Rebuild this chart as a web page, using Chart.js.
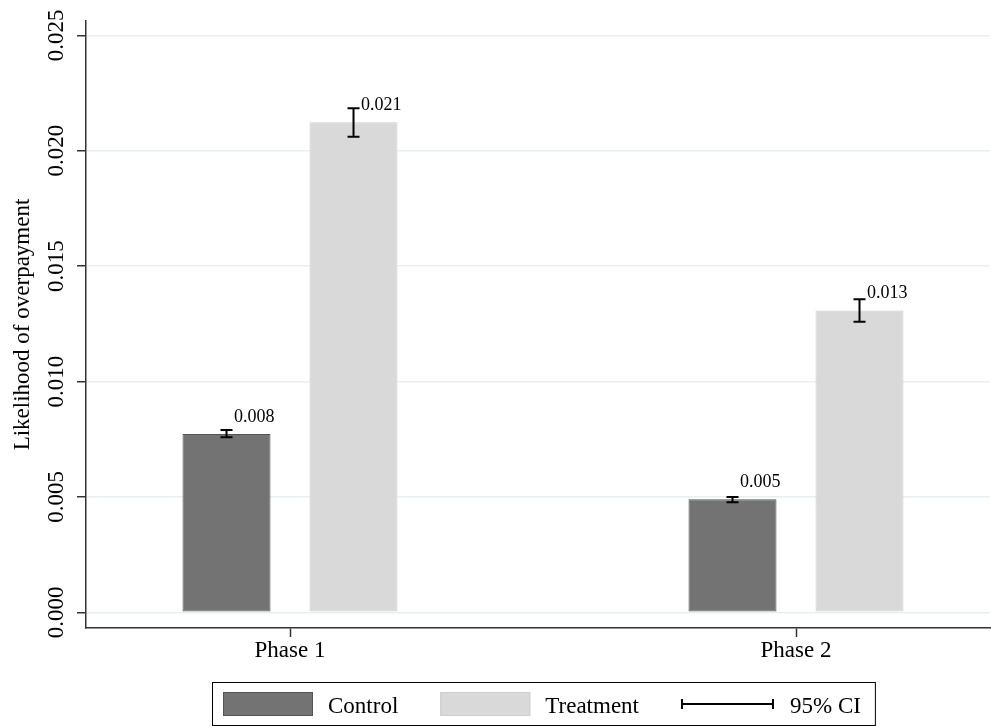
<!DOCTYPE html>
<html>
<head>
<meta charset="utf-8">
<script src="https://cdn.jsdelivr.net/npm/chart.js@4.4.0/dist/chart.umd.min.js"></script>
<style>
  html, body { margin: 0; padding: 0; background: #fff; }
</style>
</head>
<body>
<canvas id="myChart" width="991" height="726"></canvas>
<script>
// data
const phases = ['Phase 1', 'Phase 2'];
const phasePos = [1, 2];
const controlMean = [0.00773, 0.00490];
const controlLow = [0.00758, 0.00477];
const controlHigh = [0.00790, 0.00500];
const treatMean = [0.02123, 0.01308];
const treatLow = [0.02061, 0.01259];
const treatHigh = [0.02184, 0.01356];
const yTicks = [0, 0.005, 0.010, 0.015, 0.020, 0.025];

Chart.defaults.font.family = '"Liberation Serif", "Times New Roman", serif';
Chart.defaults.color = '#000';

// error bars and value labels on top of the bars
const ciPlugin = {
    id: 'ciBars',
    afterDatasetsDraw(chart) {
        const ctx = chart.ctx;
        const yScale = chart.scales.y;
        chart.data.datasets.forEach((ds, i) => {
            const meta = chart.getDatasetMeta(i);
            meta.data.forEach((bar, j) => {
                const lo = yScale.getPixelForValue(ds.ciLow[j]);
                const hi = yScale.getPixelForValue(ds.ciHigh[j]);
                ctx.save();
                ctx.strokeStyle = '#000';
                ctx.lineWidth = 2;
                ctx.beginPath();
                ctx.moveTo(bar.x, lo);
                ctx.lineTo(bar.x, hi);
                ctx.moveTo(bar.x - 6, lo);
                ctx.lineTo(bar.x + 6, lo);
                ctx.moveTo(bar.x - 6, hi);
                ctx.lineTo(bar.x + 6, hi);
                ctx.stroke();
                ctx.font = '18px "Liberation Serif"';
                ctx.fillStyle = '#000';
                ctx.textAlign = 'left';
                ctx.textBaseline = 'alphabetic';
                ctx.fillText(ds.data[j].y.toFixed(3), bar.x + 7.5, bar.y - 12);
                ctx.restore();
            });
        });
    }
};

// boxed legend below the plot, Stata style
const legendPlugin = {
    id: 'boxLegend',
    afterDraw(chart) {
        const ctx = chart.ctx;
        const area = chart.chartArea;
        ctx.save();
        ctx.font = '23px "Liberation Serif"';
        const items = chart.data.datasets.map(ds => ({
            label: ds.label, kind: 'box', fill: ds.backgroundColor, stroke: ds.borderColor, symW: 90, gap: 15
        }));
        items.push({ label: '95% CI', kind: 'ci', symW: 93, gap: 16 });

        const symH = 24, itemGap = 42, padL = 11, padR = 14;
        let total = padL + padR;
        items.forEach((it, k) => {
            it.w = ctx.measureText(it.label).width;
            total += it.symW + it.gap + it.w + (k < items.length - 1 ? itemGap : 0);
        });
        const left = Math.round((area.left + area.right) / 2 - total / 2 + 5);
        const top = 682, bottom = 725, mid = 704;

        ctx.strokeStyle = '#000';
        ctx.lineWidth = 1;
        ctx.strokeRect(left + 0.5, top + 0.5, total, bottom - top);

        let x = left + padL;
        items.forEach(it => {
            if (it.kind === 'box') {
                ctx.fillStyle = it.fill;
                ctx.fillRect(x, mid - symH / 2, it.symW, symH);
                ctx.strokeStyle = it.stroke;
                ctx.strokeRect(x + 0.5, mid - symH / 2 + 0.5, it.symW - 1, symH - 1);
            } else {
                ctx.strokeStyle = '#000';
                ctx.lineWidth = 2;
                ctx.beginPath();
                ctx.moveTo(x + 1, mid);
                ctx.lineTo(x + it.symW - 1, mid);
                ctx.moveTo(x + 1, mid - 5);
                ctx.lineTo(x + 1, mid + 5);
                ctx.moveTo(x + it.symW - 1, mid - 5);
                ctx.lineTo(x + it.symW - 1, mid + 5);
                ctx.stroke();
            }
            ctx.fillStyle = '#000';
            ctx.textAlign = 'left';
            ctx.textBaseline = 'alphabetic';
            ctx.fillText(it.label, x + it.symW + it.gap, mid + 9);
            x += it.symW + it.gap + it.w + itemGap;
        });
        ctx.restore();
    }
};

const ctx = document.getElementById('myChart').getContext('2d');

const myChart = new Chart(ctx, {
    type: 'bar',
    data: {
        datasets: [{
            label: 'Control',
            data: phasePos.map((p, i) => ({ x: p, y: controlMean[i] })),
            ciLow: controlLow,
            ciHigh: controlHigh,
            backgroundColor: '#737373',
            borderColor: '#545454',
            borderWidth: 1,
            borderSkipped: false,
            categoryPercentage: 0.502,
            barPercentage: 0.693
        }, {
            label: 'Treatment',
            data: phasePos.map((p, i) => ({ x: p, y: treatMean[i] })),
            ciLow: treatLow,
            ciHigh: treatHigh,
            backgroundColor: '#d9d9d9',
            borderColor: '#cdcdcd',
            borderWidth: 1,
            borderSkipped: false,
            categoryPercentage: 0.502,
            barPercentage: 0.693
        }]
    },
    options: {
        responsive: false,
        animation: false,
        layout: { padding: { left: 0, right: 1, top: 21, bottom: 58 } },
        plugins: {
            legend: { display: false },
            tooltip: { enabled: false }
        },
        scales: {
            x: {
                type: 'linear',
                min: 0.5968,
                max: 2.3834,
                offset: false,
                afterBuildTicks: s => { s.ticks = phasePos.map(v => ({ value: v })); },
                afterFit: s => { s.height = 40; },
                ticks: {
                    callback: (v, i) => phases[i],
                    font: { size: 23 },
                    color: '#000',
                    padding: 0,
                    maxRotation: 0,
                    autoSkip: false
                },
                grid: { offset: false, drawOnChartArea: false, tickLength: 9, tickColor: '#333', tickWidth: 1.5 },
                border: { color: '#333', width: 1.5 }
            },
            y: {
                type: 'linear',
                min: -0.00068,
                max: 0.02562,
                afterBuildTicks: s => { s.ticks = yTicks.map(v => ({ value: v })); },
                afterFit: s => { s.width = 86; },
                ticks: {
                    callback: v => v.toFixed(3),
                    minRotation: 90,
                    maxRotation: 90,
                    crossAlign: 'center',
                    padding: -6,
                    font: { size: 23 },
                    color: '#000'
                },
                grid: { color: '#e7eff1', lineWidth: 1.5, tickLength: 9, tickColor: '#333', tickWidth: 1.5 },
                border: { color: '#333', width: 1.5 },
                title: {
                    display: true,
                    text: 'Likelihood of overpayment',
                    font: { size: 23 },
                    color: '#000',
                    padding: { top: 9, bottom: 0 }
                }
            }
        }
    },
    plugins: [ciPlugin, legendPlugin]
});
</script>
</body>
</html>
